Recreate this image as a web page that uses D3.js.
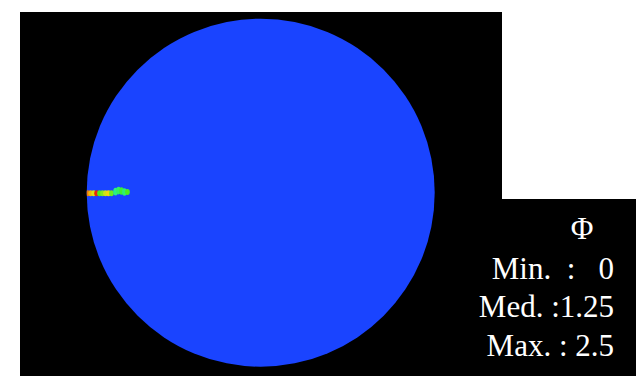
<!DOCTYPE html>
<html>
<head>
<meta charset="utf-8">
<script src="https://cdn.jsdelivr.net/npm/d3@7"></script>
<style>
  html, body { margin: 0; padding: 0; background: #fff; }
  svg { display: block; }
  .legend text { white-space: pre; font-family: "Liberation Serif", "DejaVu Serif", "Noto Serif", Tinos, serif; fill: #fff; }
</style>
</head>
<body>
<svg id="chart" width="641" height="376"></svg>
<script>
// Field Φ over a unit disk; the disk itself sits at the minimum value.
const phiMin = 0;
const phiMed = 1.25;
const phiMax = 2.5;

// Legend rows: label and formatted value text
const legendRows = ["Min.  :   0", "Med. :1.25", "Max. : 2.5"];
const legendTitle = "Φ";

// Local hot spots near the left rim of the disk (normalised x, y, Φ)
const spotX = [-0.993, -0.977, -0.960, -0.943, -0.926, -0.909, -0.892, -0.875, -0.858, -0.834, -0.817, -0.800, -0.783, -0.766];
const spotY = [-0.003, -0.003, -0.003, -0.003, -0.003, -0.003, -0.003, -0.003, -0.003, 0.006, 0.012, 0.010, 0.004, 0.004];
const spotPhi = [2.2, 2.0, 1.8, 2.45, 1.3, 1.5, 1.75, 1.9, 1.4, 0.95, 1.05, 1.2, 1.0, 1.3];

const svg = d3.select("#chart");

// Position scales for the normalised disk
const x = d3.scaleLinear().domain([-1, 1]).range([86.7, 434.7]);
const y = d3.scaleLinear().domain([-1, 1]).range([366.7, 18.7]);

// Rainbow colour map from Φmin (blue) to Φmax (red)
const color = d3.scaleLinear()
  .domain([phiMin, phiMed / 2, phiMed, (phiMed + phiMax) / 2, phiMax])
  .range(["#1a44ff", "#10f0f0", "#40f020", "#f0e010", "#e81808"])
  .clamp(true);

// Black view background (L-shaped with the legend box)
svg.append("rect").attr("x", 20).attr("y", 12).attr("width", 482).attr("height", 364).attr("fill", "#000");
svg.append("rect").attr("x", 502).attr("y", 199).attr("width", 134).attr("height", 177).attr("fill", "#000");

const defs = svg.append("defs");
defs.append("filter").attr("id", "soft")
  .attr("x", "-50%").attr("y", "-50%").attr("width", "200%").attr("height", "200%")
  .append("feGaussianBlur").attr("stdDeviation", 0.6);
defs.append("clipPath").attr("id", "disk")
  .append("circle").attr("cx", x(0)).attr("cy", y(0)).attr("r", x(1) - x(0));

// Disk coloured by the minimum value
svg.append("circle")
  .attr("cx", x(0)).attr("cy", y(0)).attr("r", x(1) - x(0))
  .attr("fill", color(phiMin));

// Hot spots
const spots = spotX.map((v, i) => ({ x: v, y: spotY[i], phi: spotPhi[i] }));
svg.append("g").attr("clip-path", "url(#disk)").attr("filter", "url(#soft)")
  .selectAll("ellipse").data(spots).join("ellipse")
  .attr("cx", d => x(d.x))
  .attr("cy", d => y(d.y))
  .attr("rx", 2.4)
  .attr("ry", d => d.phi < 1.25 ? 3.8 : 3)
  .attr("fill", d => color(d.phi));

// Legend
const legend = svg.append("g").attr("class", "legend");
legend.append("text").attr("x", 582).attr("y", 239).attr("text-anchor", "middle")
  .style("font-size", "31px").text(legendTitle);
const rowBaselines = [279, 316.5, 356];
legend.selectAll("text.row").data(legendRows).join("text")
  .attr("class", "row")
  .attr("x", 614).attr("y", (d, i) => rowBaselines[i])
  .attr("text-anchor", "end").style("font-size", "31px")
  .text(d => d);
</script>
</body>
</html>
